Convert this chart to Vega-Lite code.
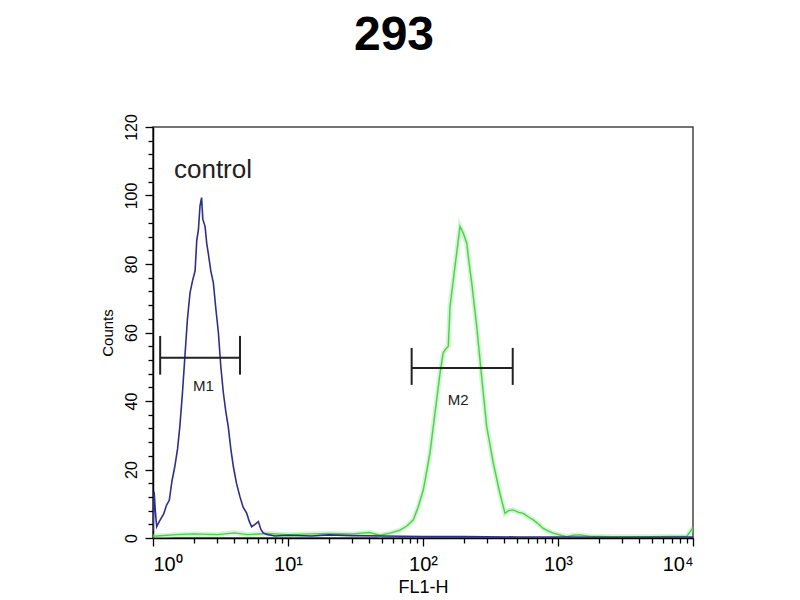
{
  "$schema": "https://vega.github.io/schema/vega-lite/v6.json",
  "autosize": "none",
  "width": 540,
  "height": 411,
  "padding": {"left": 153, "top": 127, "right": 107, "bottom": 62},
  "background": "white",
  "title": {
    "text": "293",
    "font": "Liberation Sans",
    "fontSize": 48,
    "fontWeight": "bold",
    "color": "black",
    "anchor": "middle",
    "baseline": "alphabetic",
    "offset": 16,
    "dx": -29
  },
  "config": {
    "font": "Liberation Sans",
    "view": {"stroke": "#444", "strokeWidth": 1.5},
    "axis": {
      "grid": false,
      "domainColor": "black",
      "domainWidth": 1.5,
      "tickColor": "black",
      "tickWidth": 1.3,
      "labelColor": "black",
      "titleColor": "black",
      "labelOverlap": false,
      "titleFontWeight": "normal"
    }
  },
  "datasets": {
    "hist": [
      {"sample": "control", "fl1h": 1.0, "counts": 2},
      {"sample": "control", "fl1h": 1.02, "counts": 13.5},
      {"sample": "control", "fl1h": 1.04, "counts": 8},
      {"sample": "control", "fl1h": 1.065, "counts": 3.3},
      {"sample": "control", "fl1h": 1.12, "counts": 5},
      {"sample": "control", "fl1h": 1.2, "counts": 7},
      {"sample": "control", "fl1h": 1.26, "counts": 9.6},
      {"sample": "control", "fl1h": 1.32, "counts": 11},
      {"sample": "control", "fl1h": 1.38, "counts": 16.5},
      {"sample": "control", "fl1h": 1.45, "counts": 20.8},
      {"sample": "control", "fl1h": 1.52, "counts": 26},
      {"sample": "control", "fl1h": 1.58, "counts": 32.5},
      {"sample": "control", "fl1h": 1.65, "counts": 42},
      {"sample": "control", "fl1h": 1.73, "counts": 54},
      {"sample": "control", "fl1h": 1.8, "counts": 64},
      {"sample": "control", "fl1h": 1.88, "counts": 71.6},
      {"sample": "control", "fl1h": 1.96, "counts": 75},
      {"sample": "control", "fl1h": 2.05, "counts": 78},
      {"sample": "control", "fl1h": 2.11, "counts": 87},
      {"sample": "control", "fl1h": 2.17, "counts": 90},
      {"sample": "control", "fl1h": 2.23, "counts": 97},
      {"sample": "control", "fl1h": 2.29, "counts": 99.4},
      {"sample": "control", "fl1h": 2.34, "counts": 93},
      {"sample": "control", "fl1h": 2.43, "counts": 91},
      {"sample": "control", "fl1h": 2.5, "counts": 86},
      {"sample": "control", "fl1h": 2.57, "counts": 83},
      {"sample": "control", "fl1h": 2.68, "counts": 78},
      {"sample": "control", "fl1h": 2.8, "counts": 74.5},
      {"sample": "control", "fl1h": 2.92, "counts": 67},
      {"sample": "control", "fl1h": 3.05, "counts": 60},
      {"sample": "control", "fl1h": 3.18, "counts": 50},
      {"sample": "control", "fl1h": 3.32, "counts": 42.4},
      {"sample": "control", "fl1h": 3.46, "counts": 37},
      {"sample": "control", "fl1h": 3.61, "counts": 32.5},
      {"sample": "control", "fl1h": 3.77, "counts": 26},
      {"sample": "control", "fl1h": 3.94, "counts": 20.8},
      {"sample": "control", "fl1h": 4.15, "counts": 16},
      {"sample": "control", "fl1h": 4.41, "counts": 12},
      {"sample": "control", "fl1h": 4.65, "counts": 9},
      {"sample": "control", "fl1h": 4.94, "counts": 7.3},
      {"sample": "control", "fl1h": 5.15, "counts": 5},
      {"sample": "control", "fl1h": 5.38, "counts": 3.3},
      {"sample": "control", "fl1h": 5.7, "counts": 4},
      {"sample": "control", "fl1h": 6.03, "counts": 4.8},
      {"sample": "control", "fl1h": 6.3, "counts": 2.5},
      {"sample": "control", "fl1h": 6.56, "counts": 1.5},
      {"sample": "control", "fl1h": 7, "counts": 1},
      {"sample": "control", "fl1h": 8, "counts": 0.6},
      {"sample": "control", "fl1h": 10, "counts": 0.8},
      {"sample": "control", "fl1h": 15, "counts": 0.6},
      {"sample": "control", "fl1h": 20, "counts": 0.9},
      {"sample": "control", "fl1h": 30, "counts": 0.7},
      {"sample": "control", "fl1h": 50, "counts": 0.6},
      {"sample": "control", "fl1h": 70, "counts": 0.5},
      {"sample": "control", "fl1h": 100, "counts": 0.4},
      {"sample": "control", "fl1h": 200, "counts": 0.4},
      {"sample": "control", "fl1h": 500, "counts": 0.3},
      {"sample": "control", "fl1h": 1000, "counts": 0.3},
      {"sample": "control", "fl1h": 3000, "counts": 0.2},
      {"sample": "control", "fl1h": 10000, "counts": 0.3},
      {"sample": "293", "fl1h": 1, "counts": 0.5},
      {"sample": "293", "fl1h": 1.5, "counts": 1},
      {"sample": "293", "fl1h": 2, "counts": 1.2},
      {"sample": "293", "fl1h": 3, "counts": 1},
      {"sample": "293", "fl1h": 4, "counts": 1.5},
      {"sample": "293", "fl1h": 5, "counts": 1},
      {"sample": "293", "fl1h": 7, "counts": 1.3},
      {"sample": "293", "fl1h": 10, "counts": 1},
      {"sample": "293", "fl1h": 15, "counts": 1.2},
      {"sample": "293", "fl1h": 20, "counts": 1.3},
      {"sample": "293", "fl1h": 30, "counts": 1.2},
      {"sample": "293", "fl1h": 40, "counts": 1.6},
      {"sample": "293", "fl1h": 48, "counts": 0.8},
      {"sample": "293", "fl1h": 58, "counts": 1.5},
      {"sample": "293", "fl1h": 67.6, "counts": 2.3},
      {"sample": "293", "fl1h": 76, "counts": 3.5},
      {"sample": "293", "fl1h": 84.8, "counts": 5.3},
      {"sample": "293", "fl1h": 92, "counts": 9},
      {"sample": "293", "fl1h": 100.5, "counts": 14},
      {"sample": "293", "fl1h": 106, "counts": 19},
      {"sample": "293", "fl1h": 112.6, "counts": 24.8},
      {"sample": "293", "fl1h": 122.7, "counts": 36.5},
      {"sample": "293", "fl1h": 133.6, "counts": 48},
      {"sample": "293", "fl1h": 141, "counts": 54},
      {"sample": "293", "fl1h": 146, "counts": 55},
      {"sample": "293", "fl1h": 154, "counts": 56},
      {"sample": "293", "fl1h": 158.5, "counts": 67.6},
      {"sample": "293", "fl1h": 165, "counts": 73},
      {"sample": "293", "fl1h": 172.6, "counts": 79.3},
      {"sample": "293", "fl1h": 180, "counts": 85},
      {"sample": "293", "fl1h": 188, "counts": 91},
      {"sample": "293", "fl1h": 199, "counts": 89},
      {"sample": "293", "fl1h": 211, "counts": 86},
      {"sample": "293", "fl1h": 220, "counts": 80},
      {"sample": "293", "fl1h": 229.6, "counts": 74.5},
      {"sample": "293", "fl1h": 250, "counts": 61.8},
      {"sample": "293", "fl1h": 272, "counts": 47},
      {"sample": "293", "fl1h": 296.5, "counts": 32.5},
      {"sample": "293", "fl1h": 332, "counts": 21.8},
      {"sample": "293", "fl1h": 371.5, "counts": 13},
      {"sample": "293", "fl1h": 405, "counts": 7.2},
      {"sample": "293", "fl1h": 430, "counts": 8},
      {"sample": "293", "fl1h": 466, "counts": 8.2},
      {"sample": "293", "fl1h": 510, "counts": 7.5},
      {"sample": "293", "fl1h": 553, "counts": 7.2},
      {"sample": "293", "fl1h": 600, "counts": 6.2},
      {"sample": "293", "fl1h": 656, "counts": 5.3},
      {"sample": "293", "fl1h": 720, "counts": 4},
      {"sample": "293", "fl1h": 778, "counts": 2.8},
      {"sample": "293", "fl1h": 850, "counts": 2},
      {"sample": "293", "fl1h": 923, "counts": 1.4},
      {"sample": "293", "fl1h": 1050, "counts": 0.8},
      {"sample": "293", "fl1h": 1159, "counts": 0.4},
      {"sample": "293", "fl1h": 1300, "counts": 0.8},
      {"sample": "293", "fl1h": 1455, "counts": 0.9},
      {"sample": "293", "fl1h": 1700, "counts": 0.5},
      {"sample": "293", "fl1h": 2500, "counts": 0.4},
      {"sample": "293", "fl1h": 5000, "counts": 0.4},
      {"sample": "293", "fl1h": 9000, "counts": 0.5},
      {"sample": "293", "fl1h": 10000, "counts": 3}
    ],
    "gates": [
      {"gate": "M1", "lo": 1.13, "hi": 4.41, "level": 52.6, "bottom": 47.7, "top": 59, "labelX": 2.36, "labelY": 44.4},
      {"gate": "M2", "lo": 82.4, "hi": 462, "level": 49.6, "bottom": 44.7, "top": 55.5, "labelX": 182, "labelY": 40.3}
    ],
    "notes": [
      {"text": "control", "fl1h": 1.43, "counts": 105}
    ]
  },
  "layer": [
    {
      "data": {"name": "hist"},
      "transform": [{"filter": "datum.sample === '293'"}],
      "mark": {"type": "line", "color": "#9be89b", "strokeWidth": 5, "opacity": 0.45, "clip": true},
      "encoding": {
        "x": {
          "field": "fl1h",
          "type": "quantitative",
          "scale": {"type": "log", "domain": [1, 10000], "nice": false},
          "axis": {
            "title": "FL1-H",
            "titleFontSize": 18,
            "titlePadding": 4,
            "labelFontSize": 20,
            "labelPadding": 8,
            "tickCount": 100,
            "values": [1, 2, 3, 4, 5, 6, 7, 8, 9, 10, 20, 30, 40, 50, 60, 70, 80, 90, 100, 200, 300, 400, 500, 600, 700, 800, 900, 1000, 2000, 3000, 4000, 5000, 6000, 7000, 8000, 9000, 10000],
            "labelExpr": "datum.value == 1 ? '10⁰' : datum.value == 10 ? '10¹' : datum.value == 100 ? '10²' : datum.value == 1000 ? '10³' : datum.value == 10000 ? '10⁴' : ''",
            "tickSize": {"condition": {"test": "indexof([1, 10, 100, 1000, 10000], datum.value) >= 0", "value": 8}, "value": 5}
          }
        },
        "y": {
          "field": "counts",
          "type": "quantitative",
          "scale": {"domain": [0, 120], "nice": false},
          "axis": {
            "title": "Counts",
            "titleFontSize": 15,
            "titlePadding": 8,
            "labelFontSize": 16,
            "labelAngle": 270,
            "labelPadding": 6,
            "tickCount": 100,
            "values": [0, 4, 8, 12, 16, 20, 24, 28, 32, 36, 40, 44, 48, 52, 56, 60, 64, 68, 72, 76, 80, 84, 88, 92, 96, 100, 104, 108, 112, 116, 120],
            "labelExpr": "datum.value % 20 === 0 ? datum.label : ''",
            "tickSize": {"condition": {"test": "datum.value % 20 === 0", "value": 8}, "value": 5}
          }
        }
      }
    },
    {
      "data": {"name": "hist"},
      "transform": [{"filter": "datum.sample === '293'"}],
      "mark": {"type": "line", "color": "#4ccf4c", "strokeWidth": 1.4, "clip": true},
      "encoding": {
        "x": {"field": "fl1h", "type": "quantitative"},
        "y": {"field": "counts", "type": "quantitative"}
      }
    },
    {
      "data": {"name": "hist"},
      "transform": [{"filter": "datum.sample === 'control'"}],
      "mark": {"type": "line", "color": "#2e2f8a", "strokeWidth": 1.6, "clip": true},
      "encoding": {
        "x": {"field": "fl1h", "type": "quantitative"},
        "y": {"field": "counts", "type": "quantitative"}
      }
    },
    {
      "data": {"name": "gates"},
      "mark": {"type": "rule", "color": "#222", "strokeWidth": 2},
      "encoding": {
        "x": {"field": "lo", "type": "quantitative"},
        "x2": {"field": "hi"},
        "y": {"field": "level", "type": "quantitative"}
      }
    },
    {
      "data": {"name": "gates"},
      "mark": {"type": "rule", "color": "#222", "strokeWidth": 2},
      "encoding": {
        "x": {"field": "lo", "type": "quantitative"},
        "y": {"field": "bottom", "type": "quantitative"},
        "y2": {"field": "top"}
      }
    },
    {
      "data": {"name": "gates"},
      "mark": {"type": "rule", "color": "#222", "strokeWidth": 2},
      "encoding": {
        "x": {"field": "hi", "type": "quantitative"},
        "y": {"field": "bottom", "type": "quantitative"},
        "y2": {"field": "top"}
      }
    },
    {
      "data": {"name": "gates"},
      "mark": {"type": "text", "fontSize": 15, "color": "#222", "baseline": "middle", "align": "center"},
      "encoding": {
        "x": {"field": "labelX", "type": "quantitative"},
        "y": {"field": "labelY", "type": "quantitative"},
        "text": {"field": "gate"}
      }
    },
    {
      "data": {"name": "notes"},
      "mark": {"type": "text", "fontSize": 26, "color": "#222", "align": "left", "baseline": "alphabetic"},
      "encoding": {
        "x": {"field": "fl1h", "type": "quantitative"},
        "y": {"field": "counts", "type": "quantitative"},
        "text": {"field": "text"}
      }
    }
  ]
}
